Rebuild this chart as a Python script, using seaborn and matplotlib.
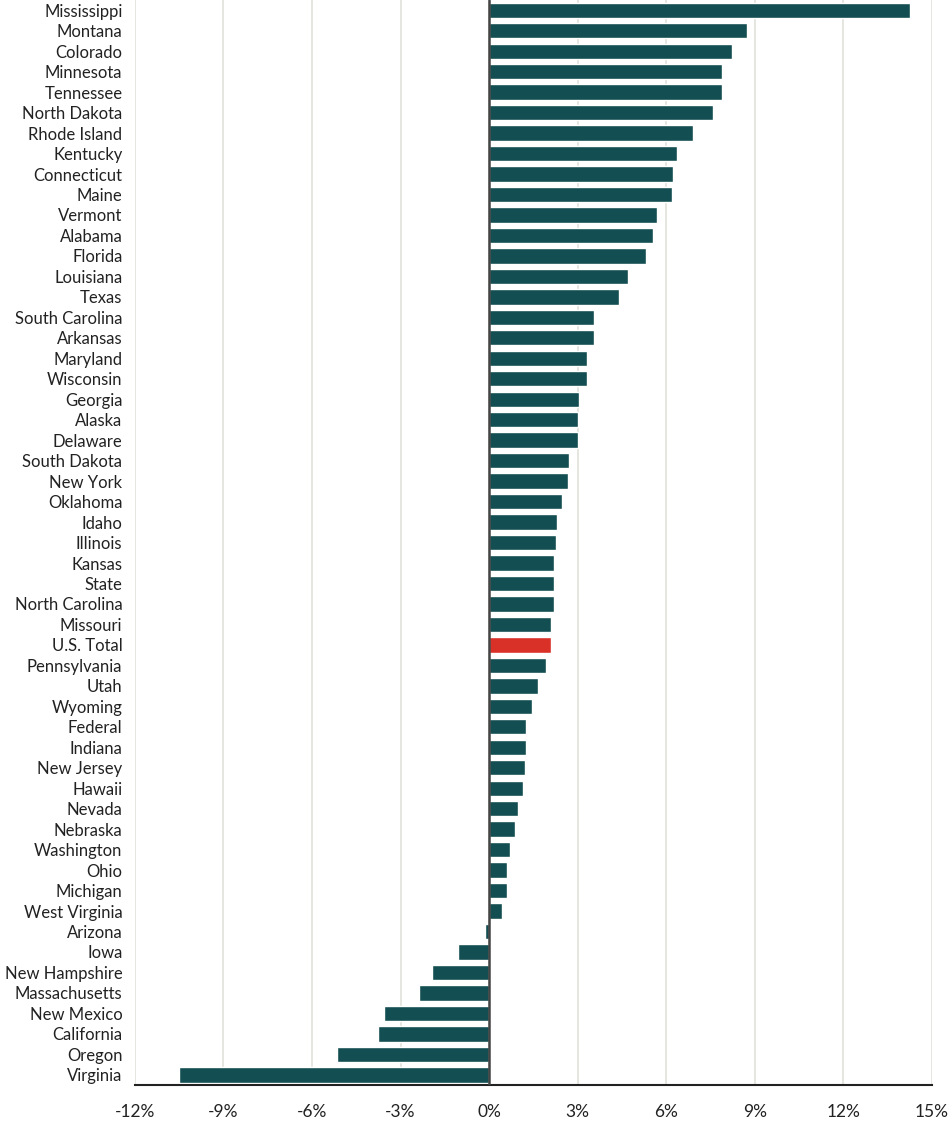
import matplotlib.pyplot as plt
import pandas as pd
import seaborn as sns

# Values (percent change)
states = ['Mississippi', 'Montana', 'Colorado', 'Minnesota', 'Tennessee', 'North Dakota',
          'Rhode Island', 'Kentucky', 'Connecticut', 'Maine', 'Vermont', 'Alabama',
          'Florida', 'Louisiana', 'Texas', 'South Carolina', 'Arkansas', 'Maryland',
          'Wisconsin', 'Georgia', 'Alaska', 'Delaware', 'South Dakota', 'New York',
          'Oklahoma', 'Idaho', 'Illinois', 'Kansas', 'State', 'North Carolina',
          'Missouri', 'U.S. Total', 'Pennsylvania', 'Utah', 'Wyoming', 'Federal',
          'Indiana', 'New Jersey', 'Hawaii', 'Nevada', 'Nebraska', 'Washington',
          'Ohio', 'Michigan', 'West Virginia', 'Arizona', 'Iowa', 'New Hampshire',
          'Massachusetts', 'New Mexico', 'California', 'Oregon', 'Virginia']
change = [14.24, 8.75, 8.21, 7.90, 7.90, 7.58,
          6.92, 6.37, 6.24, 6.21, 5.67, 5.55,
          5.30, 4.69, 4.39, 3.55, 3.54, 3.33,
          3.33, 3.04, 3.00, 3.00, 2.72, 2.67,
          2.46, 2.29, 2.27, 2.21, 2.20, 2.19,
          2.10, 2.08, 1.93, 1.66, 1.45, 1.26,
          1.25, 1.21, 1.15, 0.99, 0.88, 0.72,
          0.62, 0.59, 0.44, -0.14, -1.04, -1.93,
          -2.39, -3.56, -3.78, -5.15, -10.52]
xticks = [-12, -9, -6, -3, 0, 3, 6, 9, 12, 15]

df = pd.DataFrame({'state': states, 'change': change})
df['group'] = ['total' if s == 'U.S. Total' else 'state' for s in df['state']]

sns.set_theme(style='white')
plt.rcParams['font.family'] = ['Lato', 'DejaVu Sans']

fig, ax = plt.subplots(figsize=(9.5, 11.24), dpi=100)
fig.subplots_adjust(left=0.142, right=0.981, top=1.0, bottom=0.035)

sns.barplot(data=df, x='change', y='state', hue='group', orient='h',
            palette={'state': '#134e52', 'total': '#d93027'}, saturation=1,
            width=0.75, dodge=False, legend=False, ax=ax)

ax.set_xlim(-12, 15)
ax.set_ylim(len(states) - 0.52, -0.5)
ax.set_xticks(xticks)
ax.set_xticklabels([f'{t}%' for t in xticks])
ax.grid(axis='x', color='#e2e1dc', linewidth=1.2)
ax.set_axisbelow(True)
ax.axvline(0, color='#444444', linewidth=1.8, zorder=3)

for side in ['top', 'right', 'left']:
    ax.spines[side].set_visible(False)
ax.spines['bottom'].set_color('#222222')
ax.spines['bottom'].set_linewidth(1.5)

ax.tick_params(axis='y', length=0, pad=9, labelsize=12, labelcolor='#222222')
ax.tick_params(axis='x', length=0, pad=14, labelsize=12.5, labelcolor='#222222')
ax.set_xlabel('')
ax.set_ylabel('')

fig.savefig('out.png')
